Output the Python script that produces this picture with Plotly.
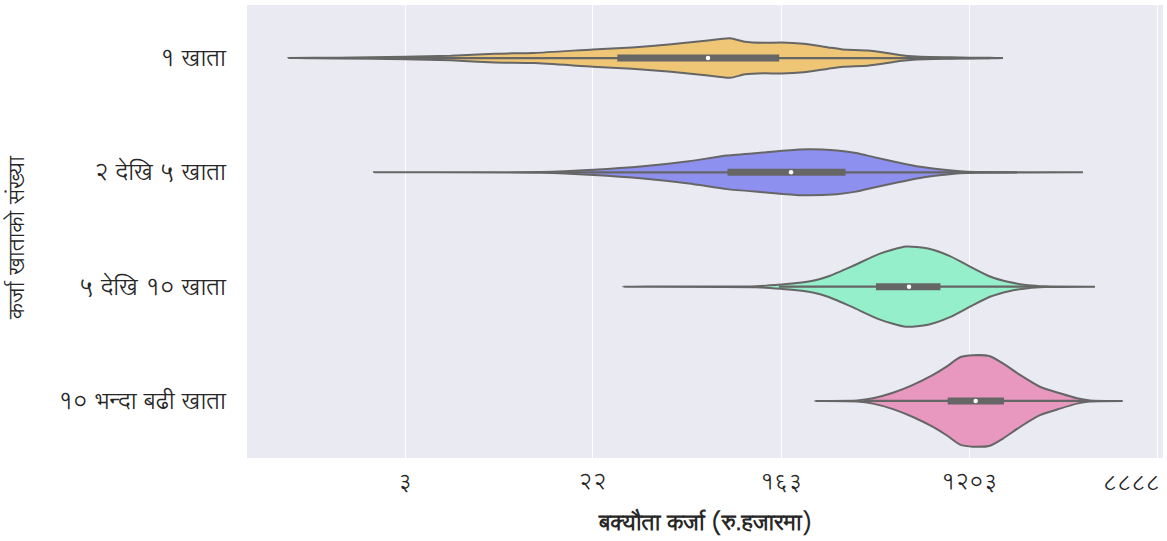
import math
import plotly.graph_objects as go

# Categories (top to bottom)
categories = ["१ खाता", "२ देखि ५ खाता", "५ देखि १० खाता", "१० भन्दा बढी खाता"]
colors = ["#EFC676", "#8E90F0", "#95EFCB", "#E897BE"]

# Violin density profiles: x = ln(outstanding loan, Rs. thousand), density relative to widest violin
g1_x = [-0.14, 0.385, 1.099, 1.583, 2.051, 2.469, 3.093, 3.510, 3.927, 4.291, 4.551, 4.708,
        4.917, 5.099, 5.333, 5.594, 5.750, 6.010, 6.218, 6.349, 6.532, 6.896, 7.104, 7.312, 7.45]
g1_d = [0.0, 0.009, 0.029, 0.051, 0.096, 0.111, 0.189, 0.233, 0.300, 0.378, 0.433, 0.356,
        0.333, 0.340, 0.311, 0.233, 0.189, 0.167, 0.111, 0.067, 0.033, 0.016, 0.009, 0.004, 0.0]

g2_x = [0.769, 2.533, 3.103, 3.627, 4.115, 4.519, 4.901, 5.294, 5.687, 5.889, 6.080, 6.324,
        6.569, 6.802, 6.994, 7.153, 8.30]
g2_d = [0.0, 0.007, 0.056, 0.133, 0.244, 0.367, 0.433, 0.500, 0.478, 0.422, 0.333, 0.222,
        0.122, 0.060, 0.022, 0.007, 0.0]

g3_x = [3.414, 4.837, 5.103, 5.315, 5.443, 5.591, 5.846, 6.144, 6.420, 6.654, 6.887, 7.100,
        7.312, 7.514, 7.716, 7.896, 8.428]
g3_d = [0.0, 0.011, 0.049, 0.089, 0.133, 0.222, 0.444, 0.722, 0.878, 0.833, 0.667, 0.438,
        0.222, 0.100, 0.033, 0.009, 0.0]

g4_x = [5.453, 5.900, 6.069, 6.282, 6.494, 6.707, 6.855, 6.994, 7.132, 7.312, 7.450, 7.631,
        7.843, 8.056, 8.236, 8.374, 8.722]
g4_d = [0.0, 0.011, 0.058, 0.178, 0.351, 0.569, 0.756, 0.956, 1.000, 0.978, 0.822, 0.569,
        0.311, 0.167, 0.058, 0.011, 0.0]

profiles_x = [g1_x, g2_x, g3_x, g4_x]
profiles_d = [g1_d, g2_d, g3_d, g4_d]

# Inner box statistics (ln units)
q1 = [3.354, 4.524, 6.101, 6.863]
median = [4.317, 5.199, 6.452, 7.160]
q3 = [5.073, 5.778, 6.786, 7.461]
whisker_lo = [0.86, 2.64, 5.07, 5.97]
whisker_hi = [7.31, 7.60, 7.81, 8.36]

# X tick labels (values in Rs. thousand)
tick_values = [3, 22, 163, 1203, 8888]
tick_labels = ["३", "२२", "१६३", "१२०३", "८८८८"]

x_title = "बक्यौता कर्जा (रु.हजारमा)"
y_title = "कर्जा खाताको संख्या"

HALF_MAX = 0.4
GRAY = "#666666"
DEV_FONT = "Lohit Devanagari, Noto Sans Devanagari, Noto Sans, DejaVu Sans, sans-serif"
TXT = "#262626"

fig = go.Figure()
for i in range(len(categories)):
    xs = profiles_x[i]
    hs = [d * HALF_MAX for d in profiles_d[i]]
    px = xs + xs[::-1]
    py = [i - h for h in hs] + [i + h for h in hs[::-1]]
    fig.add_trace(go.Scatter(x=px, y=py, mode="lines", fill="toself", fillcolor=colors[i],
                             line=dict(color=GRAY, width=2, shape="spline", smoothing=0.6),
                             hoverinfo="skip", showlegend=False))
    fig.add_trace(go.Scatter(x=[whisker_lo[i], whisker_hi[i]], y=[i, i], mode="lines",
                             line=dict(color=GRAY, width=2.2), hoverinfo="skip", showlegend=False))
    fig.add_trace(go.Scatter(x=[q1[i], q3[i]], y=[i, i], mode="lines",
                             line=dict(color=GRAY, width=7), hoverinfo="skip", showlegend=False))
    fig.add_trace(go.Scatter(x=[median[i]], y=[i], mode="markers",
                             marker=dict(color="white", size=4.5, line=dict(width=0)),
                             hoverinfo="skip", showlegend=False))

tickvals = [math.log(v) for v in tick_values]
# last label is drawn right-aligned so it stays inside the page
shown_text = tick_labels[:-1] + [""]

plot_w = 1167 - 247 - 4
plot_h = 541 - 5 - 83

fig.update_layout(
    width=1167, height=541,
    margin=dict(l=247, r=4, t=5, b=83),
    paper_bgcolor="white", plot_bgcolor="#EAEAF2",
    font=dict(family=DEV_FONT, color=TXT),
    xaxis=dict(range=[-0.58, 9.15], tickvals=tickvals, ticktext=shown_text,
               showgrid=True, gridcolor="white", gridwidth=1.2,
               zeroline=False, showline=False, ticks="", tickfont=dict(size=22, color=TXT),
               ticklabelstandoff=8),
    yaxis=dict(range=[3.499, -0.464], tickvals=list(range(len(categories))), ticktext=categories,
               showgrid=False, zeroline=False, showline=False, ticks="",
               tickfont=dict(size=23, color=TXT), ticklabelstandoff=20),
    annotations=[
        dict(x=tickvals[-1], y=0, xref="x", yref="paper", yanchor="top", xanchor="right",
             xshift=4, yshift=-6, text=tick_labels[-1], showarrow=False,
             font=dict(size=22, color=TXT)),
        dict(x=0.5, y=(541 - 83 - 523) / plot_h, xref="paper", yref="paper",
             yanchor="middle", xanchor="center",
             text="<b>" + x_title + "</b>", showarrow=False, font=dict(size=22, color=TXT)),
        dict(x=(18 - 247) / plot_w, y=(541 - 83 - 238) / plot_h, xref="paper", yref="paper",
             xanchor="center", yanchor="middle",
             text=y_title, textangle=-90, showarrow=False, font=dict(size=22, color=TXT)),
    ],
)

fig.write_html("out.html")
